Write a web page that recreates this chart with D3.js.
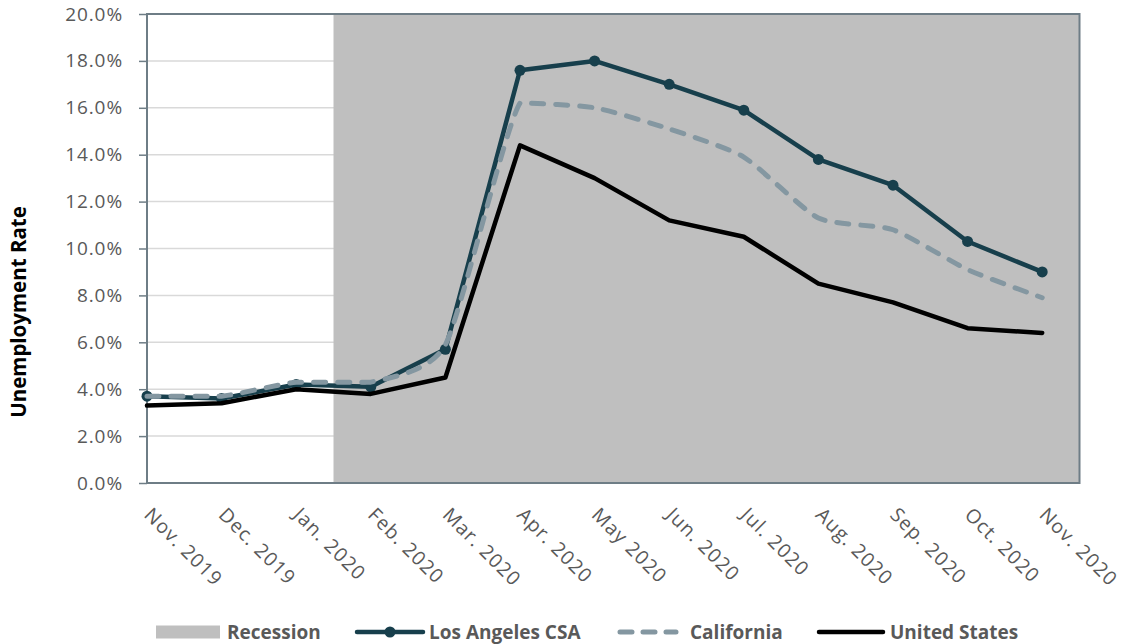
<!DOCTYPE html>
<html>
<head>
<meta charset="utf-8">
<script src="https://cdn.jsdelivr.net/npm/d3@7/dist/d3.min.js"></script>
<style>
  html, body { margin: 0; padding: 0; background: #fff; }
  svg { display: block; font-family: "Open Sans", sans-serif; }
</style>
</head>
<body>
<svg id="chart" width="1124" height="644"></svg>
<script>
// ---- data ----
const months = ["Nov. 2019","Dec. 2019","Jan. 2020","Feb. 2020","Mar. 2020","Apr. 2020","May 2020",
                "Jun. 2020","Jul. 2020","Aug. 2020","Sep. 2020","Oct. 2020","Nov. 2020"];
const losAngelesCSA = [3.7, 3.6, 4.2, 4.1, 5.7, 17.6, 18.0, 17.0, 15.9, 13.8, 12.7, 10.3, 9.0];
const california    = [3.7, 3.7, 4.3, 4.3, 5.9, 16.2, 16.0, 15.1, 13.9, 11.3, 10.8, 9.1, 7.9];
const unitedStates  = [3.3, 3.4, 4.0, 3.8, 4.5, 14.4, 13.0, 11.2, 10.5, 8.5, 7.7, 6.6, 6.4];
const yTicks = [0, 2, 4, 6, 8, 10, 12, 14, 16, 18, 20];
const recessionFrom = 2.5;   // between Jan. 2020 and Feb. 2020
const recessionTo = 12.5;    // to the end of the plot
const legendLabels = ["Recession", "Los Angeles CSA", "California", "United States"];

// ---- layout ----
const svg = d3.select("#chart");
const L = 147, R = 1079.5, T = 14, B = 483;
const x = d3.scaleLinear().domain([0, 12.5]).range([L, R]);
const y = d3.scaleLinear().domain([0, 20]).range([B, T]);

const axisColor = "#6E7D86";
const gridColor = "#D9D9D9";
const textColor = "#595959";
const laColor = "#173F4C";
const caColor = "#8497A1";
const usColor = "#000000";
const recColor = "#BFBFBF";

// gridlines
svg.append("g").selectAll("line").data(yTicks.filter(d => d > 0 && d < 20)).join("line")
  .attr("x1", L).attr("x2", R)
  .attr("y1", d => y(d)).attr("y2", d => y(d))
  .attr("stroke", gridColor).attr("stroke-width", 1.5);

// recession shading
svg.append("rect")
  .attr("x", x(recessionFrom)).attr("y", y(20))
  .attr("width", x(recessionTo) - x(recessionFrom))
  .attr("height", y(0) - y(20))
  .attr("fill", recColor);

// y axis (ticks left, labels)
const yAxis = d3.axisLeft(y).tickValues(yTicks).tickSize(8).tickPadding(16)
  .tickFormat(d => d.toFixed(1) + "%");
const gy = svg.append("g").attr("transform", `translate(${L},0)`).call(yAxis);
gy.select(".domain").remove();
gy.selectAll(".tick line").attr("stroke", axisColor).attr("stroke-width", 1.5);
gy.selectAll(".tick text")
  .attr("fill", textColor)
  .style("font-size", "19px")
  .style("letter-spacing", "0.9px")
  .style("font-family", "'Open Sans', sans-serif");

// frame
svg.append("rect")
  .attr("x", L).attr("y", T).attr("width", R - L).attr("height", B - T)
  .attr("fill", "none").attr("stroke", axisColor).attr("stroke-width", 2);

// x labels
const idx = d3.range(months.length);
svg.append("g").selectAll("text").data(idx).join("text")
  .attr("transform", i => `translate(${x(i) - 4},${B + 33}) rotate(45)`)
  .attr("fill", textColor)
  .style("font-size", "19.5px")
  .style("letter-spacing", "1.1px")
  .text(i => months[i]);

// lines
const line = d3.line().x((d, i) => x(i)).y(d => y(d));

// smoothed line (cardinal-style Bezier with control points clamped to each segment's range)
function smoothPath(vals, k) {
  const px = vals.map((d, i) => x(i)), py = vals.map(d => y(d));
  const n = vals.length;
  const tx = [], ty = [];
  for (let i = 0; i < n; i++) {
    const a = Math.max(0, i - 1), b = Math.min(n - 1, i + 1);
    tx.push((px[b] - px[a]) * k);
    ty.push((py[b] - py[a]) * k);
  }
  const p = d3.path();
  p.moveTo(px[0], py[0]);
  for (let i = 0; i < n - 1; i++) {
    const lo = Math.min(py[i], py[i + 1]), hi = Math.max(py[i], py[i + 1]);
    const c1y = Math.max(lo, Math.min(hi, py[i] + ty[i]));
    const c2y = Math.max(lo, Math.min(hi, py[i + 1] - ty[i + 1]));
    p.bezierCurveTo(px[i] + tx[i], c1y, px[i + 1] - tx[i + 1], c2y, px[i + 1], py[i + 1]);
  }
  return p.toString();
}

svg.append("path").datum(losAngelesCSA)
  .attr("d", line).attr("fill", "none")
  .attr("stroke", laColor).attr("stroke-width", 4.5)
  .attr("stroke-linejoin", "round").attr("stroke-linecap", "round");
svg.append("g").selectAll("circle").data(losAngelesCSA).join("circle")
  .attr("cx", (d, i) => x(i)).attr("cy", d => y(d)).attr("r", 5.5)
  .attr("fill", laColor);

svg.append("path")
  .attr("d", smoothPath(california, 0.1)).attr("fill", "none")
  .attr("stroke", caColor).attr("stroke-width", 5)
  .attr("stroke-dasharray", "12,12")
  .attr("stroke-linejoin", "round").attr("stroke-linecap", "round");

svg.append("path").datum(unitedStates)
  .attr("d", line).attr("fill", "none")
  .attr("stroke", usColor).attr("stroke-width", 4.5)
  .attr("stroke-linejoin", "round").attr("stroke-linecap", "round");

// y title
svg.append("text")
  .attr("transform", "translate(26,312) rotate(-90)")
  .attr("text-anchor", "middle")
  .attr("fill", "#000")
  .style("font-size", "20.5px")
  .style("font-weight", "bold")
  .text("Unemployment Rate");

// legend
const lg = svg.append("g");
const ly = 632;
lg.append("rect").attr("x", 156).attr("y", ly - 6.5).attr("width", 64).attr("height", 13).attr("fill", recColor);
lg.append("line").attr("x1", 357).attr("x2", 423).attr("y1", ly).attr("y2", ly)
  .attr("stroke", laColor).attr("stroke-width", 4.5).attr("stroke-linecap", "round");
lg.append("circle").attr("cx", 390).attr("cy", ly).attr("r", 5.5).attr("fill", laColor);
lg.append("line").attr("x1", 620).attr("x2", 676).attr("y1", ly).attr("y2", ly)
  .attr("stroke", caColor).attr("stroke-width", 5).attr("stroke-dasharray", "12,11")
  .attr("stroke-linecap", "round");
lg.append("line").attr("x1", 819).attr("x2", 883).attr("y1", ly).attr("y2", ly)
  .attr("stroke", usColor).attr("stroke-width", 4.5).attr("stroke-linecap", "round");
const lx = [227, 429, 690, 890];
lg.selectAll("text").data(legendLabels).join("text")
  .attr("x", (d, i) => lx[i]).attr("y", ly)
  .attr("dy", "0.36em")
  .attr("fill", textColor)
  .style("font-size", "19px")
  .style("font-weight", "bold")
  .text(d => d);
</script>
</body>
</html>
